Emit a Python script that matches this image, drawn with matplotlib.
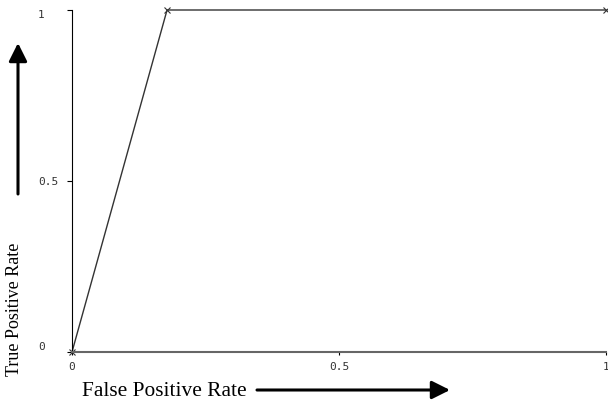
import matplotlib
matplotlib.use("Agg")
import matplotlib.pyplot as plt
from matplotlib.patches import FancyArrowPatch

fpr = [0.0, 0.178, 1.0]
tpr = [0.0, 1.0, 1.0]
xticks = [0, 0.5, 1]
xticklabels = ["0", "0.5", "1"]
yticks = [0, 0.5, 1]
yticklabels = ["0", "0.5", "1"]

W, H = 608, 405
fig = plt.figure(figsize=(W / 100, H / 100), dpi=100)
ax = fig.add_axes([72 / W, 1 - 352 / H, 534 / W, 342 / H])
ax.plot(fpr, tpr, color="#333333", lw=1, marker="x", ms=4, mew=0.8, clip_on=False)
ax.set_xlim(0, 1)
ax.set_ylim(0, 1)
for s in ["top", "right"]:
    ax.spines[s].set_visible(False)
ax.spines["left"].set_color("black")
ax.spines["bottom"].set_color("#666666")
ax.spines["bottom"].set_linewidth(1.5)
ax.set_xticks(xticks)
ax.set_xticklabels(xticklabels, family="DejaVu Sans Mono", fontsize=8, color="#333333")
ax.set_yticks(yticks)
ax.set_yticklabels(yticklabels, family="DejaVu Sans Mono", fontsize=8, color="#333333")
ax.tick_params(axis="y", length=3.5, width=0.8, pad=21)
ax.tick_params(axis="x", length=2.5, width=0.8, pad=5)
ylabs = ax.get_yticklabels()
for t in ylabs:
    t.set_ha("left")
ylabs[0].set_va("bottom")
ylabs[-1].set_va("top")

fig.text(82 / W, 1 - 391 / H, "False Positive Rate", family="Liberation Serif",
         fontsize=15.4, ha="left", va="center")
fig.text(15 / W, 1 - 309 / H, "True Positive Rate", family="Liberation Serif",
         fontsize=13, ha="center", va="center", rotation=90)

style = "-|>,head_length=1.0,head_width=0.5"
fig.add_artist(FancyArrowPatch(
    (257 / W, 1 - 390 / H), (450 / W, 1 - 390 / H), transform=fig.transFigure,
    arrowstyle=style, lw=2.2, color="black", mutation_scale=11, shrinkA=0, shrinkB=0))
fig.add_artist(FancyArrowPatch(
    (18 / W, 1 - 194 / H), (18 / W, 1 - 43 / H), transform=fig.transFigure,
    arrowstyle=style, lw=2.2, color="black", mutation_scale=11, shrinkA=0, shrinkB=0))

fig.savefig("out.png", dpi=100)
